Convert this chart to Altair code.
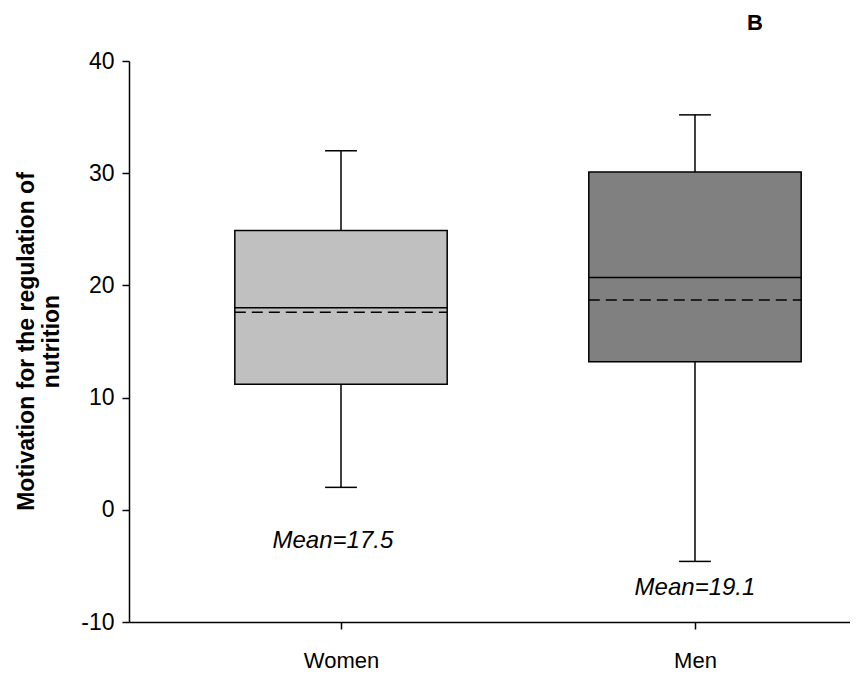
import altair as alt
import pandas as pd

# ---- data ----
groups = ["Women", "Men"]
positions = [1, 2]
whisker_low = [2.0, -4.6]
q1 = [11.2, 13.2]
median = [18.0, 20.7]
mean = [17.6, 18.7]
q3 = [24.9, 30.1]
whisker_high = [32.0, 35.2]
box_colors = ["#c0c0c0", "#808080"]

mean_labels = ["Mean=17.5", "Mean=19.1"]
mean_label_x = [0.977, 2.0]
mean_label_y = [-2.8, -7.0]

panel_label = ["B"]
y_title = ["Motivation for the regulation of", "nutrition"]
y_ticks = [-10, 0, 10, 20, 30, 40]

BOX_HALF = 0.3
CAP_HALF = 0.045

df = pd.DataFrame({
    "group": groups, "pos": positions, "low": whisker_low, "q1": q1,
    "median": median, "mean": mean, "q3": q3, "high": whisker_high,
    "color": box_colors,
})
df["left"] = df["pos"] - BOX_HALF
df["right"] = df["pos"] + BOX_HALF
df["capL"] = df["pos"] - CAP_HALF
df["capR"] = df["pos"] + CAP_HALF

lab = pd.DataFrame({"text": mean_labels, "x": mean_label_x, "y": mean_label_y})
pl = pd.DataFrame({"text": panel_label})

FONT = "Liberation Sans"

xscale = alt.Scale(domain=[0.4011, 2.4379], nice=False, zero=False)
yscale = alt.Scale(domain=[-10, 40], nice=False, zero=False)
xaxis = alt.Axis(values=positions, labelExpr="datum.value == 1 ? 'Women' : 'Men'",
                 title=None, grid=False, tickSize=7, labelPadding=21,
                 labelFontSize=22, labelFont=FONT)
yaxis = alt.Axis(values=y_ticks, labelExpr="'' + datum.value",
                 title=y_title, grid=False, tickSize=7, labelPadding=8,
                 labelFontSize=23, labelFont=FONT, titleFont=FONT, titleFontSize=23,
                 titleFontWeight="bold", titleAngle=-90, titleAlign="center",
                 titleBaseline="top", titleX=-114, titleY=280, titleLineHeight=25)


def X(f):
    return alt.X(f"{f}:Q", scale=xscale, axis=xaxis)


def Y(f):
    return alt.Y(f"{f}:Q", scale=yscale, axis=yaxis)


base = alt.Chart(df)

whisker = base.mark_rule(color="black", strokeWidth=1.5).encode(
    x=X("pos"), y=Y("low"), y2="high")
cap_low = base.mark_rule(color="black", strokeWidth=1.5).encode(
    x=X("capL"), x2="capR", y=Y("low"))
cap_high = base.mark_rule(color="black", strokeWidth=1.5).encode(
    x=X("capL"), x2="capR", y=Y("high"))
box = base.mark_rect(stroke="black", strokeWidth=1.5).encode(
    x=X("left"), x2="right", y=Y("q1"), y2="q3",
    fill=alt.Fill("color:N", scale=None))
med = base.mark_rule(color="black", strokeWidth=1.5).encode(
    x=X("left"), x2="right", y=Y("median"))
mn = base.mark_rule(color="black", strokeWidth=1.5, strokeDash=[11, 6]).encode(
    x=X("left"), x2="right", y=Y("mean"))

txt = alt.Chart(lab).mark_text(font=FONT, fontSize=24, fontStyle="italic",
                               color="black").encode(
    x=X("x"), y=Y("y"), text="text:N")

bl = alt.Chart(pl).mark_text(font=FONT, fontSize=22, fontWeight="bold",
                             color="black", baseline="alphabetic").encode(
    x=alt.value(626), y=alt.value(-31), text="text:N")

chart = alt.layer(whisker, cap_low, cap_high, box, med, mn, txt, bl).properties(
    width=721, height=561,
    autosize=alt.AutoSizeParams(type="none"),
    padding={"left": 121, "top": 53, "right": 0, "bottom": 52},
).configure_view(stroke=None).configure_axis(
    domainColor="black", tickColor="black", labelColor="black", titleColor="black",
    domainWidth=1.5, tickWidth=1.5,
)

chart.save("out.html", embed_options={"renderer": "svg", "actions": False})
